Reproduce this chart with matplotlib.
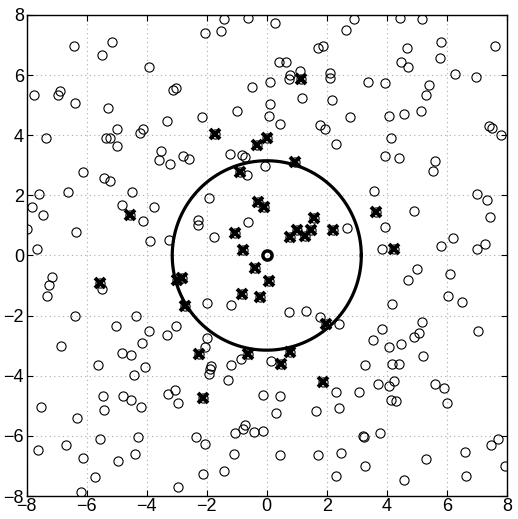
import numpy as np
import matplotlib
matplotlib.use("Agg")
import matplotlib.pyplot as plt

# all points (circles)
pts_x = [-6.42,-5.17,-5.5,-3.91,-7.76,-6.96,-6.9,-6.38,-5.3,-3.14,-3.03,-3.31,-7.37,-5.36,-5.23,-4.98,-4.98,-4.14,-4.22,-3.54,-3.59,-3.23,-2.79,-2.59,-6.11,
         -1.42,-0.61,0.28,-2.07,-1.51,2.63,2.89,1.7,1.89,0.42,0.63,1.1,0.77,0.73,2.12,2.12,0.12,-0.5,1.18,2.16,0.12,-0.99,-2.16,0.08,0.43,1.78,1.93,2.78,2.3,-1.24,-0.82,-0.74,-0.07,-0.67,
         4.44,5.17,5.8,4.67,7.59,4.46,4.69,5.77,6.28,6.98,3.37,3.93,5.41,5.29,5.14,4.56,4.06,7.39,7.5,7.81,4.13,3.94,4.41,5.59,5.53,
         -5.44,-5.23,-7.59,-6.61,-4.5,-7.81,-7.46,-4.84,-3.76,-4.14,-7.98,-6.37,-3.89,-3.26,-7.64,-7.14,-7.26,-7.33,-5.5,-6.4,-4.37,-5.01,-3.92,-3.03,-3.33,
         -1.91,-2.3,-2.3,-0.64,-1.76,2.67,-2.0,-1.19,0.74,1.32,1.76,2.41,-2.0,
         3.58,4.89,3.94,3.83,5.81,6.19,6.99,7.33,7.44,7.26,7.02,5.02,4.72,6.11,6.03,6.5,4.17,5.17,5.06,4.92,3.83,3.53,7.04,
         -6.87,-4.16,-4.84,-4.54,-5.64,-4.07,-4.44,-5.46,-4.79,-4.54,-4.19,-5.42,-7.53,-6.31,-3.3,-3.07,-2.97,-5.56,-4.29,-7.61,-6.68,-6.11,-4.96,-4.39,-5.72,-6.2,-2.96,
         -2.06,-1.86,-1.89,-1.94,-1.2,-1.3,-0.87,0.13,2.31,-0.14,0.44,0.31,1.63,2.42,-0.74,-0.78,-1.06,-0.44,-0.13,-2.37,-2.06,-1.09,0.44,1.72,2.48,-2.14,-1.41,2.3,
         4.06,4.46,5.22,3.26,4.17,4.41,3.69,4.06,4.23,3.06,5.61,5.91,6.0,4.13,4.3,3.21,3.23,3.78,3.26,4.58,5.31,6.61,6.63,7.48,7.72,7.94]
pts_y = [6.95,7.1,6.67,6.27,5.35,5.34,5.47,5.07,4.89,5.49,5.56,4.46,3.9,3.91,3.91,4.2,3.65,4.22,4.07,3.48,3.19,3.05,3.32,3.21,2.78,
         7.85,7.89,7.74,7.41,7.46,7.49,7.85,6.91,6.98,6.45,6.45,6.14,6.01,5.87,6.07,5.9,5.77,5.59,5.25,5.18,5.04,4.8,4.59,4.64,4.36,4.33,4.2,4.59,3.7,3.37,3.34,3.26,2.99,2.69,
         7.91,7.88,7.11,6.91,6.98,6.43,6.26,6.56,6.02,5.95,5.77,5.74,5.68,5.35,4.82,4.69,4.64,4.31,4.23,4.01,3.92,3.32,3.23,3.15,2.8,
         2.57,2.48,2.04,2.12,2.12,1.6,1.35,1.69,1.6,1.16,0.87,0.77,0.49,0.52,0.21,-0.7,-0.97,-1.34,-1.12,-2.0,-2.02,-2.35,-2.5,-2.33,-2.66,
         1.9,1.18,1.02,1.1,0.6,0.91,-1.58,-1.64,-1.89,-1.86,-2.04,-2.27,-2.76,
         2.15,1.47,0.96,0.21,0.3,0.59,2.03,1.85,1.29,0.38,0.21,-0.44,-0.81,-0.61,-1.34,-1.54,-1.6,-2.21,-2.57,-2.71,-2.44,-2.8,-2.52,
         -3.0,-2.9,-3.25,-3.31,-3.65,-3.71,-3.98,-4.69,-4.69,-4.81,-5.04,-5.14,-5.05,-5.39,-4.62,-4.46,-4.92,-6.1,-6.04,-6.48,-6.32,-6.74,-6.84,-6.61,-7.37,-7.87,-7.69,
         -3.06,-3.69,-3.78,-3.94,-3.65,-4.13,-3.43,-3.5,-4.55,-4.63,-4.69,-5.25,-5.18,-5.08,-5.64,-5.77,-5.91,-5.86,-5.83,-6.04,-6.27,-6.61,-6.62,-6.62,-6.56,-7.27,-7.17,-7.34,
         -3.06,-2.96,-3.34,-3.64,-3.62,-3.62,-4.29,-4.35,-4.18,-4.53,-4.28,-4.42,-4.92,-4.82,-4.83,-6.01,-6.03,-5.89,-7.0,-7.48,-6.76,-6.54,-7.35,-6.32,-6.1,-7.0]

# selected points (crossed)
sel_x = [1.13,-1.74,0.0,-0.34,0.94,-0.89,-4.57,-5.57,-3.0,-2.81,-2.72,-0.28,-0.08,-1.06,1.58,1.0,1.47,0.76,1.26,2.22,-0.78,-0.39,0.08,-0.83,-0.23,1.98,
         3.64,4.24,-2.26,-0.61,0.47,0.76,1.89,-2.11]
sel_y = [5.87,4.05,3.92,3.68,3.1,2.77,1.35,-0.92,-0.81,-0.75,-1.69,1.77,1.6,0.76,1.26,0.85,0.85,0.63,0.65,0.85,0.19,-0.42,-0.86,-1.27,-1.39,-2.27,
         1.43,0.21,-3.28,-3.28,-3.61,-3.2,-4.22,-4.75]

center = (0.0, 0.0)
radius = 3.15
ticks = [-8, -6, -4, -2, 0, 2, 4, 6, 8]

plt.rcParams['font.family'] = ['Liberation Sans', 'DejaVu Sans']
fig = plt.figure(figsize=(5.18, 5.19), dpi=100)
ax = fig.add_axes([0.0515, 0.0443, 0.927, 0.927])

ax.plot(pts_x + sel_x, pts_y + sel_y, 'o', mfc='none', mec='black', ms=6.6, mew=0.8, zorder=3)
ax.plot(sel_x, sel_y, 'x', color='black', ms=7.5, mew=2.8, zorder=4)
ax.plot([center[0]], [center[1]], 'o', mfc='none', mec='black', ms=6.6, mew=2.5, zorder=4)
t = np.linspace(0, 2 * np.pi, 400)
ax.plot(center[0] + radius * np.cos(t), center[1] + radius * np.sin(t), color='black', lw=2.3, zorder=5)

ax.set_xlim(-8, 8)
ax.set_ylim(-8, 8)
ax.set_xticks(ticks)
ax.set_yticks(ticks)
ax.set_xticklabels([str(v).replace('-', '\u2212') for v in ticks])
ax.set_yticklabels([str(v).replace('-', '\u2212') for v in ticks])
ax.tick_params(direction='in', length=4, labelsize=13, top=True, right=True, pad=2)
ax.tick_params(axis='x', pad=1.5)
ax.grid(True, linestyle=(0, (1, 3)), color='#aaaaaa', lw=0.8)
ax.set_axisbelow(True)
for s in ax.spines.values():
    s.set_linewidth(1.0)

fig.savefig('out.png', dpi=100)
